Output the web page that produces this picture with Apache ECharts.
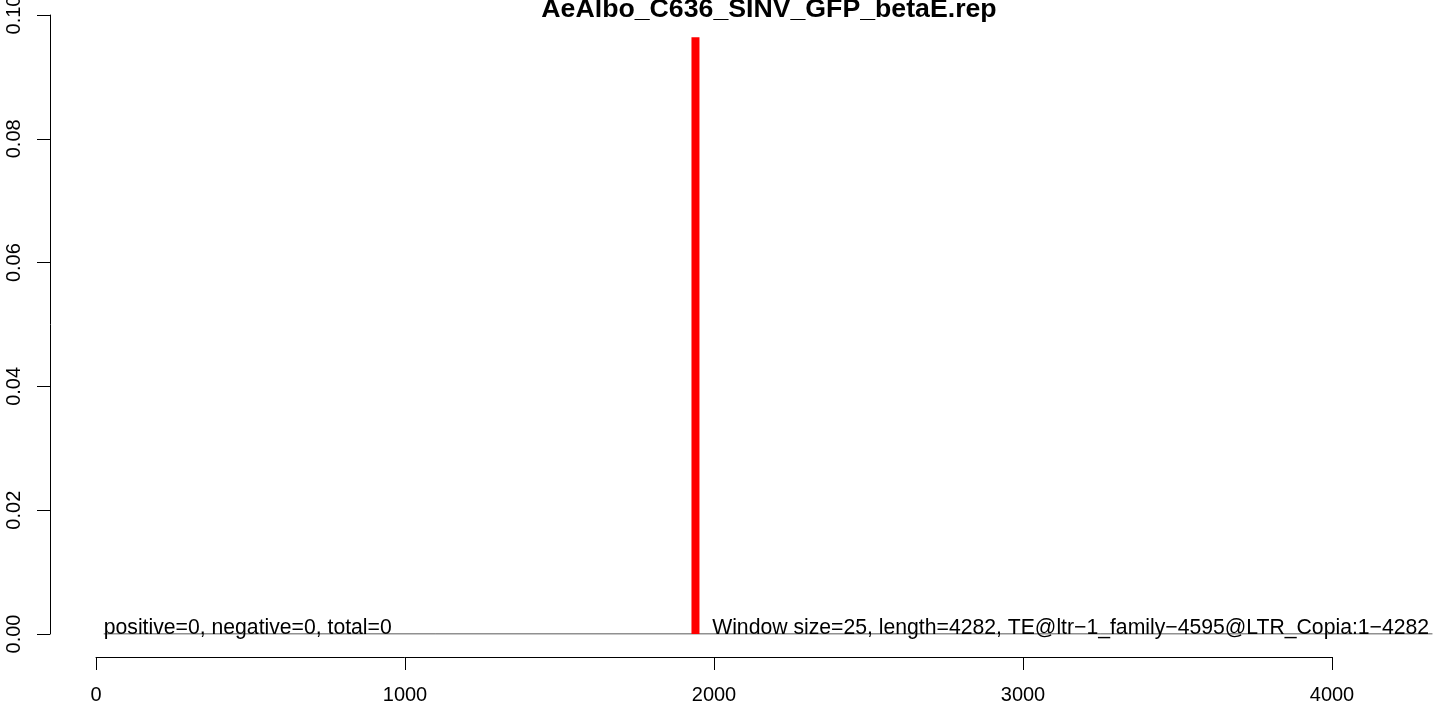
<!DOCTYPE html>
<html>
<head>
<meta charset="utf-8">
<script src="https://cdn.jsdelivr.net/npm/echarts@6/dist/echarts.min.js"></script>
<style>
html,body{margin:0;padding:0;background:#fff;}
#chart{width:1436px;height:709px;}
</style>
</head>
<body>
<div id="chart"></div>
<script>
// ---- data ----
const titleText = 'AeAlbo_C636_SINV_GFP_betaE.rep';
const baselineX = [25, 4325];
const baselineY = [0, 0];
const peakX = [1940];
const peakY = [0.0964];
const yTicks = [0, 0.02, 0.04, 0.06, 0.08, 0.10];
const xTicks = [0, 1000, 2000, 3000, 4000];
const leftNote = 'positive=0, negative=0, total=0';
const leftNoteX = 25;
const rightNote = 'Window size=25, length=4282, TE@ltr\u22121_family\u22124595@LTR_Copia:1\u22124282';
const rightNoteX = 1994;

const FONT = '"Liberation Sans", Arial, Helvetica, sans-serif';
const chart = echarts.init(document.getElementById('chart'), null, {renderer: 'canvas'});

chart.setOption({
  animation: false,
  backgroundColor: '#ffffff',
  title: {
    text: titleText,
    left: 764,
    top: -9,
    textAlign: 'center',
    textStyle: {fontFamily: FONT, fontWeight: 'bold', fontSize: 26.7, color: '#000'}
  },
  grid: [
    {left: 50, right: 0, top: 15, bottom: 75, outerBoundsMode: 'none', containLabel: false},
    {left: 96, width: 1236, top: 656, height: 1, outerBoundsMode: 'none', containLabel: false}
  ],
  xAxis: [
    {gridIndex: 0, type: 'value', min: -148.87, max: 4336.5, show: false},
    {
      gridIndex: 1, type: 'value', min: xTicks[0], max: xTicks[xTicks.length - 1], interval: 1000,
      position: 'bottom',
      axisLine: {show: true, onZero: false, lineStyle: {color: '#000', width: 1}},
      axisTick: {show: true, length: 13, lineStyle: {color: '#000', width: 1}},
      axisLabel: {show: true, margin: 28, color: '#000', fontFamily: FONT, fontSize: 20,
        formatter: v => xTicks.includes(v) ? String(v) : ''},
      splitLine: {show: false}
    }
  ],
  yAxis: [
    {
      gridIndex: 0, type: 'value', min: 0, max: 0.1, interval: 0.02, position: 'left',
      axisLine: {show: true, onZero: false, lineStyle: {color: '#000', width: 1}},
      axisTick: {show: true, length: 13, lineStyle: {color: '#000', width: 1}},
      axisLabel: {show: true, rotate: 90, margin: 26, color: '#000', fontFamily: FONT, fontSize: 20,
        formatter: v => {
          const t = yTicks.find(k => Math.abs(k - v) < 1e-9);
          return t === undefined ? '' : t.toFixed(2);
        }},
      splitLine: {show: false}
    },
    {gridIndex: 1, type: 'value', show: false}
  ],
  series: [
    {
      type: 'line', xAxisIndex: 0, yAxisIndex: 0,
      data: baselineX.map((x, i) => [x, baselineY[i]]),
      symbol: 'none', lineStyle: {color: '#222', width: 1}, z: 1
    },
    {
      type: 'bar', xAxisIndex: 0, yAxisIndex: 0,
      data: peakX.map((x, i) => [x, peakY[i]]),
      barWidth: 8, itemStyle: {color: '#ff0000'}, z: 3
    },
    {
      type: 'scatter', xAxisIndex: 0, yAxisIndex: 0, symbolSize: 0, z: 4,
      itemStyle: {opacity: 1},
      data: [
        {value: [leftNoteX, 0], name: leftNote},
        {value: [rightNoteX, 0], name: rightNote}
      ],
      label: {
        show: true, position: [0, 5], align: 'left', verticalAlign: 'bottom', opacity: 1,
        formatter: p => p.name, color: '#000', fontFamily: FONT, fontSize: 21.2
      },
      emphasis: {disabled: true}
    }
  ]
});
</script>
</body>
</html>
